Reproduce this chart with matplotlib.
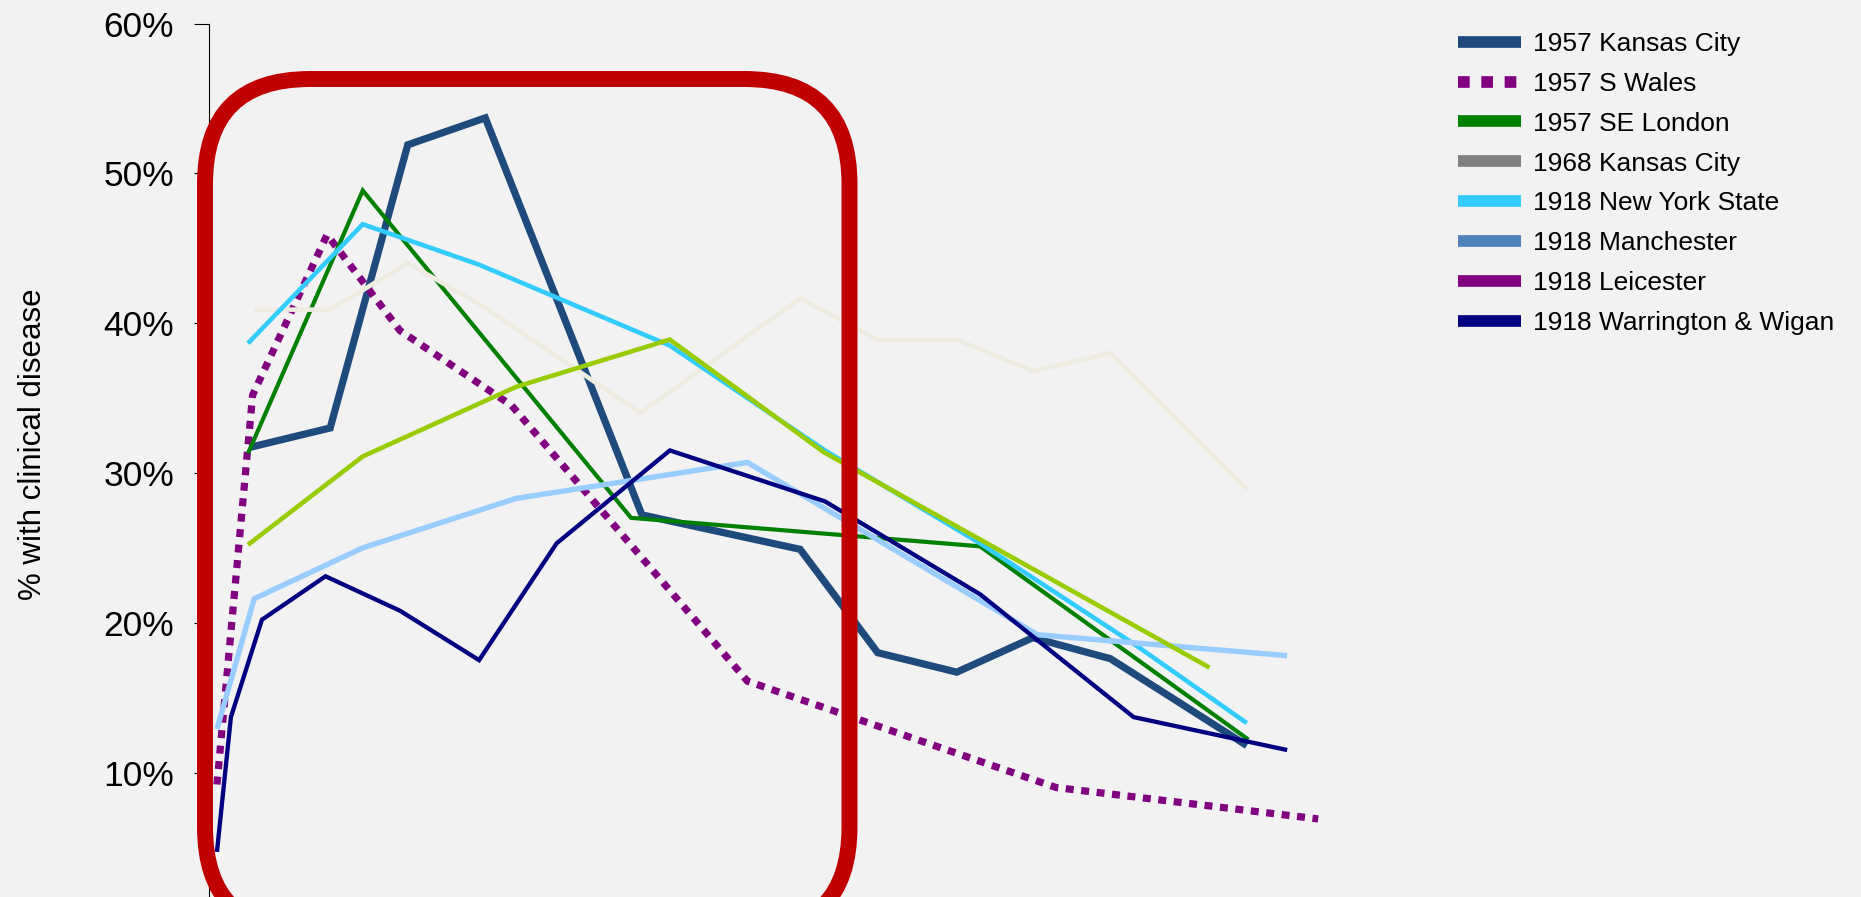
import matplotlib
matplotlib.use("Agg")
import matplotlib.pyplot as plt
from matplotlib.lines import Line2D
from matplotlib.patches import FancyBboxPatch
from matplotlib.transforms import IdentityTransform
from matplotlib.ticker import FuncFormatter

plt.rcParams['font.family'] = ['Liberation Sans', 'DejaVu Sans']

# ---- data (age in years, % with clinical disease) ----
kc57_age = [2.6, 7.8, 12.8, 17.8, 27.9, 38.1, 43.1, 48.2, 53.1, 58.1, 66.9]
kc57_pct = [31.7, 33.0, 51.9, 53.7, 27.2, 24.9, 18.0, 16.7, 19.0, 17.6, 11.8]

swales_age = [0.5, 2.8, 7.6, 12.3, 19.5, 34.7, 54.6, 71.5]
swales_pct = [9.2, 35.2, 45.9, 39.5, 34.5, 16.1, 9.0, 6.9]

selondon_age = [2.5, 9.9, 27.2, 49.7, 67.0]
selondon_pct = [31.3, 48.85, 27.0, 25.1, 12.2]

kc68_age = [2.9, 7.8, 12.8, 17.7, 27.8, 38.1, 43.1, 48.2, 53.1, 58.1, 66.9]
kc68_pct = [40.9, 40.9, 44.0, 41.1, 34.0, 41.65, 38.9, 38.9, 36.8, 38.0, 28.9]

nys_age = [2.5, 9.9, 17.4, 29.7, 39.7, 49.7, 59.6, 66.9]
nys_pct = [38.65, 46.6, 43.9, 38.5, 31.5, 25.3, 18.6, 13.3]

manch_age = [0.5, 2.9, 9.9, 19.8, 34.7, 53.4, 69.5]
manch_pct = [12.9, 21.6, 25.0, 28.3, 30.7, 19.2, 17.8]

leic_age = [2.5, 9.9, 19.8, 29.7, 39.6, 64.5]
leic_pct = [25.2, 31.1, 35.75, 38.9, 31.4, 17.0]

ww_age = [0.5, 1.4, 3.4, 7.5, 12.3, 17.4, 22.4, 29.7, 39.7, 49.7, 59.6, 69.5]
ww_pct = [4.7, 13.7, 20.2, 23.1, 20.8, 17.5, 25.3, 31.5, 28.1, 21.9, 13.7, 11.5]

legend_labels = ["1957 Kansas City", "1957 S Wales", "1957 SE London", "1968 Kansas City",
                 "1918 New York State", "1918 Manchester", "1918 Leicester",
                 "1918 Warrington & Wigan"]
y_ticks = [10, 20, 30, 40, 50, 60]

# ---- figure ----
W, H = 1861, 897
fig = plt.figure(figsize=(W / 100, H / 100), dpi=100)
bg = "#F2F2F2"
fig.patch.set_facecolor(bg)

ax_left = 209.2 / W
ax_top = 23.5 / H
ax = fig.add_axes([ax_left, 0.0, (1400 - 209.2) / W, 1 - ax_top])
ax.set_facecolor(bg)
ax.set_xlim(0, (1400 - 209.2) / 15.51)
ax.set_ylim(1.69, 60)

series = [
    (kc57_age, kc57_pct, "#1F4A7C", 5.2, '-'),
    (swales_age, swales_pct, "#800080", 5.2, (0, (1.1, 1.05))),
    (selondon_age, selondon_pct, "#008000", 3.0, '-'),
    (kc68_age, kc68_pct, "#EEECE0", 3.3, '-'),
    (nys_age, nys_pct, "#33CCFF", 3.3, '-'),
    (manch_age, manch_pct, "#99CCFF", 3.9, '-'),
    (leic_age, leic_pct, "#99CC00", 3.3, '-'),
    (ww_age, ww_pct, "#000080", 3.1, '-'),
]
for i, (x, y, c, lw, ls) in enumerate(series):
    ax.plot(x, y, color=c, lw=lw, ls=ls, solid_capstyle='butt',
            dash_capstyle='butt', solid_joinstyle='miter', zorder=2 + i)

for s in ['top', 'right', 'bottom']:
    ax.spines[s].set_visible(False)
ax.spines['left'].set_color('#000000')
ax.spines['left'].set_linewidth(0.8)
ax.set_xticks([])
ax.set_yticks(y_ticks)
ax.yaxis.set_major_formatter(FuncFormatter(lambda v, p: f"{v:.0f}%"))
ax.tick_params(axis='y', length=10.8, width=0.8, pad=14.4, labelsize=25.5,
               colors='#000000')

fig.text(33 / W, 1 - 444 / H, "% with clinical disease", rotation=90,
         ha='center', va='center', fontsize=22.5, color='#000000')

# ---- red rounded highlight box (pixel coordinates) ----
x0, x1 = 205, 849.5
ytop, ybot = 79, 932
box = FancyBboxPatch((x0, H - ybot), x1 - x0, ybot - ytop,
                     boxstyle="round,pad=0,rounding_size=105",
                     transform=IdentityTransform(), fill=False,
                     edgecolor="#C00000", lw=11.5, zorder=20)
fig.add_artist(box)

# ---- legend ----
leg_colors = ["#1F497D", "#800080", "#008000", "#808080", "#33CCFF", "#4F81BD",
              "#800080", "#000080"]
leg_styles = ['-', (0, (1, 1)), '-', '-', '-', '-', '-', '-']
handles = [Line2D([], [], color=c, ls=s, lw=8.4, solid_capstyle='butt',
                  dash_capstyle='butt') for c, s in zip(leg_colors, leg_styles)]
fig.legend(handles, legend_labels, loc='upper left',
           bbox_to_anchor=(1458 / W, 1 - 32 / H), frameon=False,
           fontsize=19, handlelength=2.39, handletextpad=0.45,
           labelspacing=0.6, borderpad=0, borderaxespad=0)

fig.savefig("out.png", dpi=100, facecolor=bg)
